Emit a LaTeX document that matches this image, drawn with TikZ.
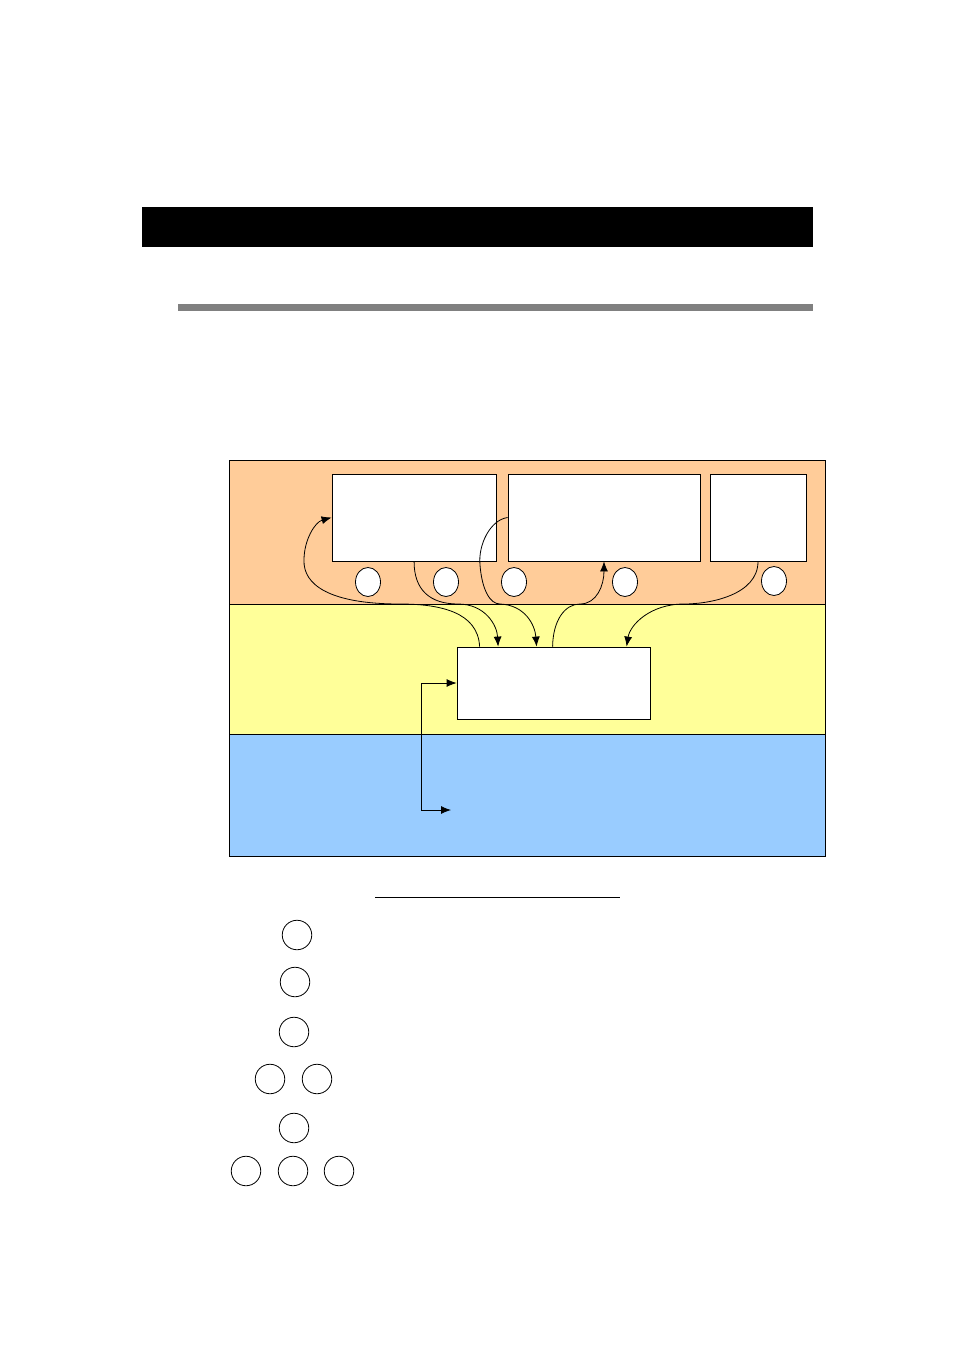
\documentclass[tikz,border=0pt]{standalone}
\usepackage{tikz}
\usetikzlibrary{shapes.geometric,arrows.meta}
\definecolor{bandorange}{HTML}{FFCC99}
\definecolor{bandyellow}{HTML}{FFFF99}
\definecolor{bandblue}{HTML}{99CCFF}
\definecolor{rulegray}{HTML}{808080}
\begin{document}
\begin{tikzpicture}[x=1pt,y=-1pt,line width=0.8pt,
    >={Latex[length=10pt,width=8pt]},
    unit/.style={draw,fill=white,inner sep=0pt},
    port/.style={draw,fill=white,ellipse,inner sep=0pt,minimum width=25pt,minimum height=29pt},
    legendring/.style={draw,circle,inner sep=0pt,minimum size=29.5pt}]
  \useasboundingbox (0,0) rectangle (954,1350);
  % heading bars
  \fill (142,207) rectangle (813,247);
  \fill[rulegray] (178,304) rectangle (813,311);
  % bands
  \filldraw[fill=bandorange] (229,460) rectangle (825,604);
  \filldraw[fill=bandyellow] (229,604) rectangle (825,734);
  \filldraw[fill=bandblue] (229,734) rectangle (825,856);
  % boxes
  \node[unit,minimum width=164pt,minimum height=87pt] (a) at (414,517.5) {};
  \node[unit,minimum width=192pt,minimum height=87pt] (b) at (604,517.5) {};
  \node[unit,minimum width=96pt,minimum height=87pt] (c) at (758,517.5) {};
  \node[unit,minimum width=193pt,minimum height=72pt] (d) at (553.5,683) {};
  \node[port] (p1) at (368,582) {};
  \node[port] (p2) at (446,582) {};
  \node[port] (p3) at (514,582) {};
  \node[port] (p4) at (625,582) {};
  \node[port] (p5) at (774,581) {};
  % connectors
  \draw[->] ([xshift=23pt]d.north west) .. controls (478,612) and (440,604) .. (400,604)
    .. controls (330,604) and (303,585) .. (304,560) .. controls (304,540) and (315,522) .. (a.west);
  \draw[->] ([xshift=82.5pt]a.south west) .. controls (414,590) and (430,604) .. (458,604)
    .. controls (485,604) and (497,625) .. ([xshift=41.5pt]d.north west);
  \draw[->] (b.west) .. controls (490,520) and (478,545) .. (480,565)
    .. controls (482,590) and (490,604) .. (500,604)
    .. controls (525,605) and (535,625) .. ([xshift=80pt]d.north west);
  \draw[->] ([xshift=96pt]d.north west) .. controls (553,620) and (565,604) .. (580,604)
    .. controls (597,604) and (604,585) .. (b.south);
  \draw[->] (c.south) .. controls (758,595) and (710,604) .. (684,604)
    .. controls (650,604) and (630,625) .. ([xshift=170pt]d.north west);
  \coordinate (feed) at (451,810);
  \draw[<->] (feed) -- (421,810) |- (d.west);
  % legend
  \draw (375,897) -- (620,897);
  \node[legendring] (m1) at (297,935) {};
  \node[legendring] (m2) at (295,982) {};
  \node[legendring] (m3) at (294,1032) {};
  \node[legendring] (m4) at (270,1079) {};
  \node[legendring] (m5) at (317,1079) {};
  \node[legendring] (m6) at (294,1128) {};
  \node[legendring] (m7) at (246,1171) {};
  \node[legendring] (m8) at (293,1171) {};
  \node[legendring] (m9) at (339,1171) {};
\end{tikzpicture}
\end{document}
